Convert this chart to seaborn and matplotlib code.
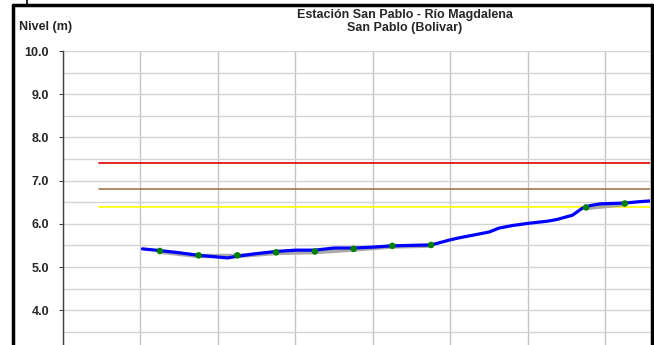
import numpy as np
import pandas as pd
import matplotlib
matplotlib.use("Agg")
import matplotlib.pyplot as plt
import seaborn as sns
from matplotlib.ticker import MultipleLocator, FormatStrFormatter

# Nivel registrado (linea azul)
dia_nivel = [4.1, 5, 6, 7, 8, 8.5, 9, 10, 11, 12, 13, 14, 15, 16, 17, 18, 19,
             19.5, 20, 20.5, 21.2, 22, 22.5, 23.2, 24, 25, 25.5, 26.3, 26.8,
             27.2, 27.7, 28.3, 29, 29.7, 30.3]
nivel = [5.42, 5.38, 5.33, 5.27, 5.23, 5.21, 5.25, 5.31, 5.36, 5.39, 5.39,
         5.44, 5.44, 5.46, 5.49, 5.50, 5.51, 5.57, 5.63, 5.68, 5.74, 5.81,
         5.90, 5.96, 6.01, 6.06, 6.10, 6.20, 6.36, 6.42, 6.46, 6.47, 6.48,
         6.51, 6.53]

# Lecturas de mira (puntos verdes)
dia_lectura = [5, 7, 9, 11, 13, 15, 17, 19, 21, 23, 25, 27, 29]
lectura = [5.37, 5.27, 5.27, 5.34, 5.36, 5.42, 5.49, 5.51,
           np.nan, np.nan, np.nan, 6.38, 6.47]

# Niveles de referencia
umbral_rojo = 7.4
umbral_marron = 6.8
umbral_amarillo = 6.4
inicio_umbral = 1.86
fin_x = 30.3

df_nivel = pd.DataFrame({"dia": dia_nivel, "nivel": nivel})
df_lect = pd.DataFrame({"dia": dia_lectura, "nivel": lectura})

sns.set_style("white")
plt.rcParams['font.family'] = ['Liberation Sans', 'DejaVu Sans']

fig = plt.figure(figsize=(6.54, 3.45), dpi=100)
ax = fig.add_axes([63 / 654, 0, (650 - 63) / 654, 1 - 51 / 345])

# lineas de umbral
for val, col in [(umbral_rojo, "#e00000"), (umbral_marron, "#a0784a"),
                 (umbral_amarillo, "#ffff00")]:
    ax.plot([inicio_umbral, fin_x], [val, val], color=col, lw=1.2, zorder=2)

# linea gris de lecturas (con huecos)
ax.plot(df_lect["dia"], df_lect["nivel"] - 0.015, color="#a0a0a0", lw=3.2,
        alpha=0.9, zorder=3)
sns.lineplot(data=df_nivel, x="dia", y="nivel", color="#0000ff", lw=2.3,
             ax=ax, zorder=4)
sns.scatterplot(data=df_lect.dropna(), x="dia", y="nivel", color="#008000",
                s=22, edgecolor="none", ax=ax, zorder=5)

ax.set_xlim(0, fin_x)
ax.set_ylim(10 - (345 - 51) / 43.2, 10)
ax.xaxis.set_major_locator(MultipleLocator(4))
ax.yaxis.set_major_locator(MultipleLocator(1))
ax.yaxis.set_minor_locator(MultipleLocator(0.5))
ax.yaxis.set_major_formatter(FormatStrFormatter("%.1f"))
ax.set_xticklabels([])
ax.tick_params(axis="x", length=0)
ax.tick_params(axis="y", which="major", length=3, width=0.8, pad=7,
               labelsize=9, color="#404040", left=True)
ax.tick_params(axis="y", which="minor", length=0)
for lab in ax.get_yticklabels():
    lab.set_fontweight("bold")
ax.grid(True, axis="x", color="#c4c4c4", lw=1)
ax.grid(True, axis="y", which="both", color="#d4d4d4", lw=1)
ax.set_axisbelow(True)
ax.set_xlabel("")
ax.set_ylabel("")
for s in ["top", "right", "bottom"]:
    ax.spines[s].set_visible(False)
ax.spines["left"].set_color("#404040")
ax.spines["left"].set_linewidth(1)

fig.text(19 / 654, 1 - 27 / 345, "Nivel (m)", fontsize=9, fontweight="bold",
         va="center", ha="left")
fig.text(405 / 654, 1 - 15 / 345, "Estación San Pablo - Río Magdalena",
         fontsize=9, fontweight="bold", ha="center", va="center")
fig.text(405 / 654, 1 - 28 / 345, "San Pablo (Bolivar)",
         fontsize=9, fontweight="bold", ha="center", va="center")

# marco exterior
fig.add_artist(plt.Line2D([12.5 / 654, 12.5 / 654], [0, 1 - 4.5 / 345],
                          color="black", lw=2.5, transform=fig.transFigure))
fig.add_artist(plt.Line2D([12.5 / 654, 651.5 / 654], [1 - 4.5 / 345, 1 - 4.5 / 345],
                          color="black", lw=2.5, transform=fig.transFigure))
fig.add_artist(plt.Line2D([651.5 / 654, 651.5 / 654], [0, 1 - 4.5 / 345],
                          color="black", lw=2.5, transform=fig.transFigure))
fig.add_artist(plt.Line2D([26.5 / 654, 26.5 / 654], [1 - 4 / 345, 1],
                          color="black", lw=1.2, transform=fig.transFigure))

fig.savefig("out.png", dpi=100)
